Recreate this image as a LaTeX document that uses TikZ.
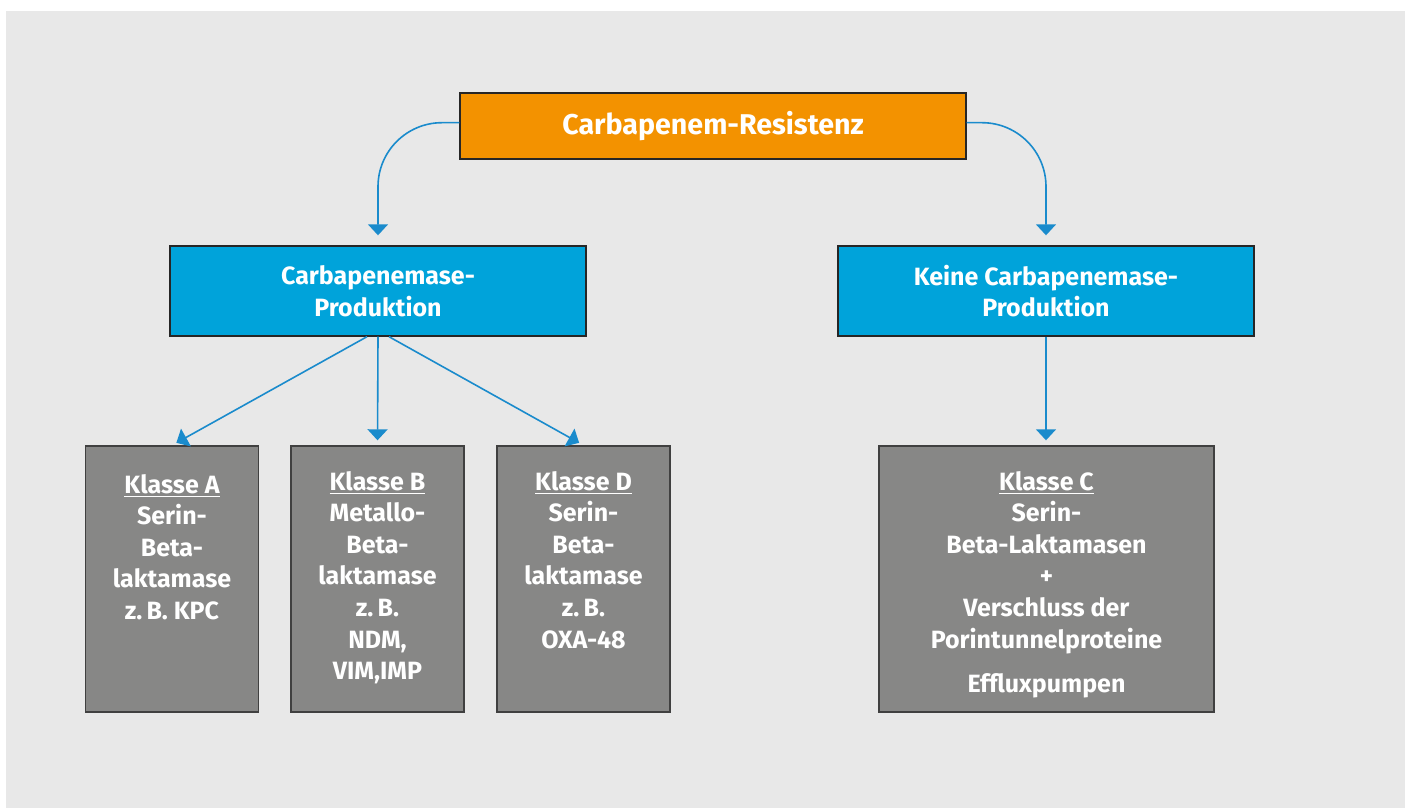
\documentclass[tikz,border=0pt]{standalone}
\usepackage{fontspec}
\setmainfont{Fira Sans}
\usepackage{xcolor}
\usepackage{tikz}
\usetikzlibrary{shapes,arrows.meta,positioning,calc}

\definecolor{rcorange}{HTML}{F39200}
\definecolor{cpblue}{HTML}{00A3DA}
\definecolor{klgrey}{HTML}{878786}
\definecolor{arrblue}{HTML}{1A8BCC}
\definecolor{bggrey}{HTML}{E8E8E8}

\begin{document}
\begin{tikzpicture}[x=0.5pt,y=0.5pt,
        box/.style={draw=black!85, line width=0.7pt, inner sep=0pt, text=white,
            font=\bfseries\fontsize{12.5}{15.8}\selectfont, align=center},
        rcbox/.style={box, fill=rcorange, minimum width=253pt, minimum height=33pt,
            font=\bfseries\fontsize{14.3}{18}\selectfont},
        cpbox/.style={box, fill=cpblue, minimum width=208pt, minimum height=45pt},
        klbox/.style={box, fill=klgrey, draw=black!75, minimum height=133pt},
        kltext/.style={inner sep=0pt, text=white, anchor=north, align=center,
            font=\bfseries\fontsize{12.5}{15.8}\selectfont},
        arr/.style={draw=arrblue, line width=0.8pt,
            -{Triangle[width=10pt,length=5.5pt]}, shorten >=2.5pt}
    ]
    % background
    \useasboundingbox (0,0) rectangle (1405,808);
    \fill[bggrey] (6,0) rectangle (1405,797);

    % top node and the two kinds of resistance
    \node[rcbox] (rc) at (713,682) {Carbapenem-Resistenz};
    \node[cpbox] (cp) at (378,517) {Carbapenemase-\\Produktion};
    \node[cpbox] (ncp) at (1046,517) {Keine Carbapenemase-\\Produktion};

    % draw the grey class boxes
    \foreach \n/\x in {ka/172,kb/377.5,kd/583.5}
    {
        \node[klbox, minimum width=86.5pt] (\n) at (\x,229) {};
    }
    \node[klbox, minimum width=167.5pt] (kc) at (1046.5,229) {};

    % texts in the class boxes
    \node[kltext] (kat) at ([yshift=-14.2pt]ka.north)
        {\underline{Klasse A}\\Serin-\\Beta-\\laktamase\\z.\,B. KPC};
    \node[kltext] (kbt) at ([yshift=-12.7pt]kb.north)
        {\underline{Klasse B}\\Metallo-\\Beta-\\laktamase\\z.\,B.\\NDM,\\VIM,IMP};
    \node[kltext] (kdt) at ([yshift=-12.7pt]kd.north)
        {\underline{Klasse D}\\Serin-\\Beta-\\laktamase\\z.\,B.\\OXA-48};
    \node[kltext] (kct) at ([yshift=-12.7pt]kc.north)
        {\underline{Klasse C}\\Serin-\\Beta-Laktamasen\\+\\Verschluss der\\Porintunnelproteine\\[6.5pt]Effluxpumpen};

    % arrows from the top node, bent down
    \draw[arr, rounded corners=32pt, shorten >=5pt] ([yshift=1.65pt]rc.west) -| (cp.north);
    \draw[arr, rounded corners=32pt, shorten >=5pt] ([yshift=1.65pt]rc.east) -| (ncp.north);

    % arrows towards the class boxes
    \draw[arr] ([xshift=-5.5pt]cp.south) -- (ka.north);
    \draw[arr] (cp.south) -- (kb.north);
    \draw[arr] ([xshift=5.5pt]cp.south) -- (kd.north);
    \draw[arr] (ncp.south) -- (ncp.south |- kc.north);
\end{tikzpicture}
\end{document}
